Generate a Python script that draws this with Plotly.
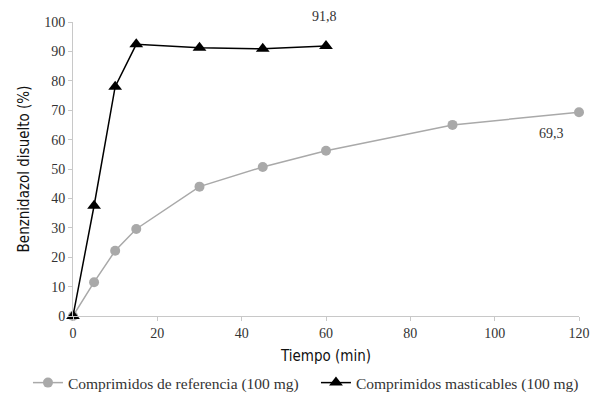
import plotly.graph_objects as go

tiempo_ref = [0, 5, 10, 15, 30, 45, 60, 90, 120]
disuelto_ref = [0, 11.5, 22.2, 29.6, 44.0, 50.7, 56.2, 65.0, 69.3]

tiempo_mast = [0, 5, 10, 15, 30, 45, 60]
disuelto_mast = [0, 37.5, 78.0, 92.4, 91.2, 90.9, 91.8]

x_ticks = [0, 20, 40, 60, 80, 100, 120]
y_ticks = [0, 10, 20, 30, 40, 50, 60, 70, 80, 90, 100]

serif = "Liberation Serif, Times New Roman, serif"
narrow = "DejaVu Sans Condensed, Liberation Sans Narrow, Arial Narrow, sans-serif"

fig = go.Figure()
fig.add_trace(go.Scatter(
    x=tiempo_ref, y=disuelto_ref, mode="lines+markers",
    name="Comprimidos de referencia (100 mg)",
    line=dict(color="#a9a9a9", width=1.5),
    marker=dict(symbol="circle", size=10, color="#a9a9a9"),
    cliponaxis=False,
))
fig.add_trace(go.Scatter(
    x=tiempo_mast, y=disuelto_mast, mode="lines+markers",
    name="Comprimidos masticables (100 mg)",
    line=dict(color="#000000", width=1.5),
    marker=dict(symbol="triangle-up", size=12, color="#000000"),
    cliponaxis=False,
))

fig.add_annotation(x=tiempo_mast[-1], y=disuelto_mast[-1], text="91,8",
                   showarrow=False, yshift=30, xshift=-2,
                   font=dict(family=serif, size=14, color="#333333"))
fig.add_annotation(x=tiempo_ref[-1], y=disuelto_ref[-1], text="69,3",
                   showarrow=False, yshift=-21, xshift=-28,
                   font=dict(family=serif, size=14, color="#333333"))

fig.update_layout(
    width=590, height=394,
    margin=dict(l=73, r=11, t=22, b=78, autoexpand=False),
    plot_bgcolor="white", paper_bgcolor="white",
    showlegend=True,
    legend=dict(orientation="h", x=-0.089, xanchor="left", y=-0.228, yanchor="middle",
                font=dict(family=serif, size=15.5, color="#333333"),
                entrywidth=243, entrywidthmode="pixels",
                itemwidth=30, tracegroupgap=0),
)
fig.update_xaxes(
    range=[0, 120], tickvals=x_ticks, showgrid=False, zeroline=False,
    showline=True, linecolor="#c8c8c8", linewidth=1, automargin=False,
    ticks="outside", ticklen=4, tickcolor="#c8c8c8",
    tickfont=dict(family=serif, size=14, color="#333333"),
    title=dict(text="Tiempo (min)", font=dict(family=narrow, size=15, color="#111111"), standoff=10),
)
fig.update_yaxes(
    range=[0, 100], tickvals=y_ticks, showgrid=False, zeroline=False,
    showline=True, linecolor="#c8c8c8", linewidth=1, automargin=False,
    ticks="outside", ticklen=4, tickcolor="#c8c8c8",
    tickfont=dict(family=serif, size=14, color="#333333"),
    title=dict(text="Benznidazol disuelto (%)", font=dict(family=narrow, size=15, color="#111111"), standoff=10),
)

# remove the default 8px page margin so the 590x394 figure fills the window exactly
fig.write_html("out.html", config={"displayModeBar": False},
               post_script="document.body.style.margin='0';document.body.style.overflow='hidden';")
